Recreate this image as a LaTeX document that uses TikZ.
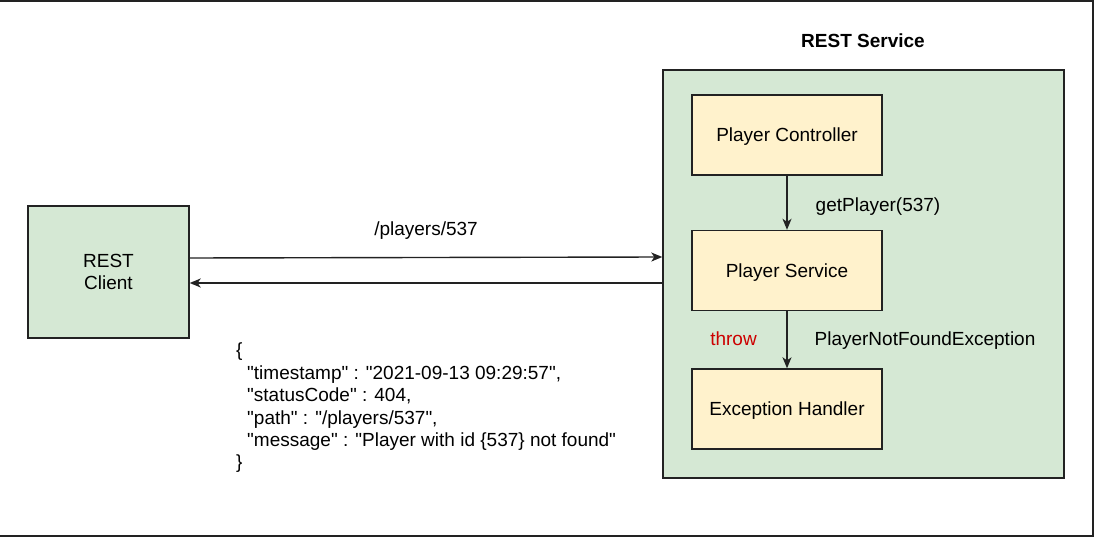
\documentclass[tikz,border=0pt]{standalone}
\usepackage{fontspec}
\setmainfont{Liberation Sans}[Ligatures=TeXOff]
\usetikzlibrary{arrows.meta}
\definecolor{greenfill}{HTML}{D5E8D4}
\definecolor{yellowfill}{HTML}{FFF2CC}
\definecolor{strokec}{HTML}{222222}
\definecolor{throwred}{HTML}{CC0000}
\begin{document}
\begin{tikzpicture}[x=1pt,y=-1pt,
  every node/.style={font=\fontsize{19}{22.4}\selectfont, text=black, text depth=0pt},
  greenbox/.style={draw=strokec, fill=greenfill, line width=1.4pt, inner sep=0pt},
  yellowbox/.style={draw=strokec, fill=yellowfill, line width=1.4pt, minimum width=190pt, minimum height=80pt, inner sep=0pt},
  conn/.style={draw=strokec, line width=1.4pt, -{Stealth[length=11pt,width=9pt,inset=3pt]}},
  lbl/.style={inner sep=0pt}
]
\useasboundingbox (0,0) rectangle (1094,537);
% outer frame (top, right, bottom)
\draw[strokec, line width=1.6pt] (0,1) -- (1093,1) -- (1093,536) -- (0,536);

% REST Service container
\node[greenbox, minimum width=401pt, minimum height=408pt] (svc) at (863.5,274) {};
\node[lbl, font=\fontsize{19}{22.4}\selectfont\bfseries] (svctitle) at (863,41) {REST Service};

% REST Client
\node[greenbox, minimum width=161pt, minimum height=132pt, align=center] (client) at (108.5,272) {REST\\Client};

% inner boxes
\node[yellowbox] (ctrl) at (787,135) {Player Controller};
\node[yellowbox] (psvc) at (787,270.5) {Player Service};
\node[yellowbox] (exh) at (787,409) {Exception Handler};

% connectors inside
\draw[conn] (ctrl) -- (psvc);
\draw[conn] (psvc) -- (exh);
\node[lbl] (getp) at (878,205) {getPlayer(537)};
\node[lbl, text=throwred] (throw) at (733.5,339) {throw};
\node[lbl] (pnfe) at (925,339) {PlayerNotFoundException};

% request / response
\coordinate (reqS) at (client.east |- 0,258);
\coordinate (reqE) at (svc.west |- 0,257);
\coordinate (resS) at (svc.west |- 0,283);
\coordinate (resE) at (client.east |- 0,283);
\draw[conn] (reqS) -- (reqE);
\draw[conn] (resS) -- (resE);
\node[lbl] (path) at (426,229) {/players/537};

% JSON body
\node[lbl, anchor=west, align=left] (json) at (236,406) {\{\\
\hspace{11pt}"timestamp" : "2021-09-13 09:29:57",\\
\hspace{11pt}"statusCode" : 404,\\
\hspace{11pt}"path" : "/players/537",\\
\hspace{11pt}"message" : "Player with id \{537\} not found"\\
\}};
\end{tikzpicture}
\end{document}
